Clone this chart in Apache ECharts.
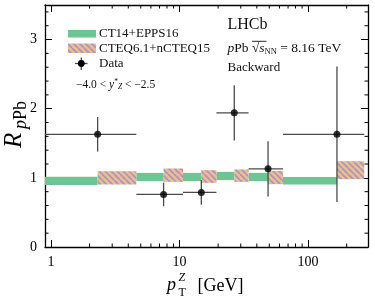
<!DOCTYPE html>
<html><head><meta charset="utf-8">
<script src="https://cdn.jsdelivr.net/npm/echarts@6/dist/echarts.min.js"></script>
<style>html,body{margin:0;padding:0;background:#fff}#c{width:375px;height:303px}</style>
</head><body><div id="c"></div>
<script>
// ---- data ----
const binLow  = [0.5, 4.62, 10.66, 19.4, 34.5, 63.9];
const binHigh = [4.62, 10.66, 19.4, 34.5, 63.9, 274];
const ptX     = [2.31, 7.53, 14.8, 26.7, 48.9, 168];
const dataY   = [1.63, 0.76, 0.79, 1.94, 1.13, 1.63];
const dataErr = [0.25, 0.17, 0.18, 0.40, 0.40, 0.98];
const eppsLow  = [0.895, 0.952, 0.952, 0.967, 0.952, 0.905];
const eppsHigh = [1.015, 1.072, 1.072, 1.087, 1.072, 1.014];
const ncteqLow  = [0.905, 0.942, 0.928, 0.942, 0.909, 0.981];
const ncteqHigh = [1.097, 1.136, 1.111, 1.121, 1.101, 1.241];
const xMinorTicks = [2,3,4,5,6,7,8,9,20,30,40,50,60,70,80,90,200];
const yMinorTicks = [0.2,0.4,0.6,0.8,1.2,1.4,1.6,1.8,2.2,2.4,2.6,2.8,3.2,3.4];
const xTickLabels = {1:'1', 10:'10', 100:'100'};

const FONT = "'Liberation Serif', 'DejaVu Serif', serif";
const GREEN = '#6dc594';
const ORANGE = '#f8b985';
const HATCH = '#8f9cd8';
const ERR = '#4a4a4a';

function hatchCanvas() {
  const s = 6;
  const c = document.createElement('canvas');
  c.width = s; c.height = s;
  const g = c.getContext('2d');
  g.fillStyle = ORANGE; g.fillRect(0, 0, s, s);
  g.strokeStyle = HATCH; g.lineWidth = 1.6;
  g.beginPath();
  for (const k of [-s, 0, s]) { g.moveTo(k, 0); g.lineTo(k + s, s); }
  g.stroke();
  return c;
}
const hatchFill = { image: hatchCanvas(), repeat: 'repeat' };

function bandSeries(name, x0s, x1s, lo, hi, fill) {
  return {
    type: 'custom', name, z: 2, silent: true,
    data: x0s.map((x, i) => [x, x1s[i], lo[i], hi[i]]),
    encode: { x: [0, 1], y: [2, 3] },
    renderItem(params, api) {
      const a = api.coord([api.value(0), api.value(3)]);
      const b = api.coord([api.value(1), api.value(2)]);
      const shape = echarts.graphic.clipRectByRect(
        { x: a[0], y: a[1], width: b[0] - a[0], height: b[1] - a[1] }, params.coordSys);
      return shape && { type: 'rect', shape, style: { fill } };
    }
  };
}

const chart = echarts.init(document.getElementById('c'), null, { renderer: 'canvas' });

const axisLineStyle = { color: '#000', width: 1.3 };
const tickStyle = { color: '#000', width: 1 };

chart.setOption({
  animation: false,
  backgroundColor: '#fff',
  grid: { left: 45, right: 7, top: 5, bottom: 56, containLabel: false },
  xAxis: [
    { type: 'log', logBase: 10, min: 0.9, max: 293, position: 'bottom',
      axisLine: { show: true, onZero: false, lineStyle: axisLineStyle },
      axisTick: { show: true, inside: true, length: 7, lineStyle: tickStyle },
      minorTick: { show: false }, splitLine: { show: false },
      axisLabel: { show: true, color: '#000', fontFamily: FONT, fontSize: 14, margin: 8,
        showMinLabel: false, showMaxLabel: false,
        formatter: v => xTickLabels[Math.round(v)] || '' } },
    { type: 'log', logBase: 10, min: 0.9, max: 293, position: 'top',
      axisLine: { show: true, onZero: false, lineStyle: axisLineStyle },
      axisTick: { show: true, inside: true, length: 7, lineStyle: tickStyle },
      minorTick: { show: false }, splitLine: { show: false }, axisLabel: { show: false } }
  ],
  yAxis: [
    { type: 'value', min: 0, max: 3.5, interval: 1, position: 'left',
      axisLine: { show: true, onZero: false, lineStyle: axisLineStyle },
      axisTick: { show: true, inside: true, length: 7, lineStyle: tickStyle },
      splitLine: { show: false },
      axisLabel: { show: true, color: '#000', fontFamily: FONT, fontSize: 14, margin: 8,
        showMaxLabel: false, formatter: v => String(v) } },
    { type: 'value', min: 0, max: 3.5, interval: 1, position: 'right',
      axisLine: { show: true, onZero: false, lineStyle: axisLineStyle },
      axisTick: { show: true, inside: true, length: 7, lineStyle: tickStyle },
      splitLine: { show: false }, axisLabel: { show: false } }
  ],
  series: [
    bandSeries('CT14+EPPS16', binLow, ptX, eppsLow, eppsHigh, GREEN),
    bandSeries('CTEQ6.1+nCTEQ15', ptX, binHigh, ncteqLow, ncteqHigh, hatchFill),
    {
      type: 'custom', name: 'Data errors', z: 3, silent: true,
      data: ptX.map((x, i) => [x, dataY[i], binLow[i], binHigh[i], dataErr[i]]),
      encode: { x: 0, y: 1 },
      renderItem(params, api) {
        const cs = params.coordSys;
        const x = api.value(0), y = api.value(1), e = api.value(4);
        const c = api.coord([x, y]);
        const l = api.coord([api.value(2), y]);
        const h = api.coord([api.value(3), y]);
        const t = api.coord([x, y + e]);
        const b = api.coord([x, y - e]);
        const lx = Math.max(l[0], cs.x), hx = Math.min(h[0], cs.x + cs.width);
        const st = { stroke: ERR, lineWidth: 1.3 };
        return { type: 'group', children: [
          { type: 'line', shape: { x1: lx, y1: c[1], x2: hx, y2: c[1] }, style: st },
          { type: 'line', shape: { x1: c[0], y1: t[1], x2: c[0], y2: b[1] }, style: st }
        ] };
      }
    },
    {
      type: 'scatter', name: 'Data', z: 4, silent: true,
      data: ptX.map((x, i) => [x, dataY[i]]),
      symbol: 'circle', symbolSize: 7,
      itemStyle: { color: '#000' }
    },
    {
      type: 'custom', name: 'xminor', z: 5, silent: true,
      data: xMinorTicks.map(v => [v, 0]),
      encode: { x: 0, y: 1 },
      renderItem(params, api) {
        const cs = params.coordSys;
        const x = api.coord([api.value(0), 0])[0];
        const st = { stroke: '#000', lineWidth: 1 };
        return { type: 'group', children: [
          { type: 'line', shape: { x1: x, y1: cs.y + cs.height, x2: x, y2: cs.y + cs.height - 3.5 }, style: st },
          { type: 'line', shape: { x1: x, y1: cs.y, x2: x, y2: cs.y + 3.5 }, style: st }
        ] };
      }
    },
    {
      type: 'custom', name: 'yminor', z: 5, silent: true,
      data: yMinorTicks.map(v => [1, v]),
      encode: { x: 0, y: 1 },
      renderItem(params, api) {
        const cs = params.coordSys;
        const y = api.coord([1, api.value(1)])[1];
        const st = { stroke: '#000', lineWidth: 1 };
        return { type: 'group', children: [
          { type: 'line', shape: { x1: cs.x, y1: y, x2: cs.x + 3.5, y2: y }, style: st },
          { type: 'line', shape: { x1: cs.x + cs.width, y1: y, x2: cs.x + cs.width - 3.5, y2: y }, style: st }
        ] };
      }
    }
  ],
  graphic: [
    // legend
    { type: 'rect', shape: { x: 68, y: 30, width: 28, height: 7.5 }, style: { fill: GREEN } },
    { type: 'rect', shape: { x: 68, y: 43.5, width: 28, height: 9.5 }, style: { fill: hatchFill } },
    { type: 'line', shape: { x1: 75, y1: 63.5, x2: 87.5, y2: 63.5 }, style: { stroke: ERR, lineWidth: 1.3 } },
    { type: 'line', shape: { x1: 81.3, y1: 57.5, x2: 81.3, y2: 70 }, style: { stroke: ERR, lineWidth: 1.3 } },
    { type: 'circle', shape: { cx: 81.3, cy: 63.5, r: 3.4 }, style: { fill: '#000' } },
    { type: 'text', x: 99, y: 34, style: { text: 'CT14+EPPS16', font: '13px ' + FONT, fill: '#111', verticalAlign: 'middle' } },
    { type: 'text', x: 99, y: 48.5, style: { text: 'CTEQ6.1+nCTEQ15', font: '13px ' + FONT, fill: '#111', verticalAlign: 'middle' } },
    { type: 'text', x: 99, y: 63.5, style: { text: 'Data', font: '13px ' + FONT, fill: '#111', verticalAlign: 'middle' } },
    { type: 'text', x: 76, y: 84.5, style: {
        text: '−4.0 < {i|y}{sup|*}{sub|Z} < −2.5', font: '11.5px ' + FONT, fill: '#111', verticalAlign: 'middle',
        rich: { i: { fontFamily: FONT, fontSize: 11.5, fontStyle: 'italic' },
                sup: { fontFamily: FONT, fontSize: 7.5, padding: [0, 0, 5, 0] },
                sub: { fontFamily: FONT, fontSize: 7.5, fontStyle: 'italic', padding: [5, 0, 0, 0] } } } },
    // annotations
    { type: 'text', x: 227.5, y: 24.5, style: { text: 'LHCb', font: '16px ' + FONT, fill: '#111', verticalAlign: 'middle' } },
    { type: 'text', x: 227.5, y: 48.5, style: {
        text: '{i|p}Pb {r|√}{i|s}{sub|NN} = 8.16 TeV', font: '13.5px ' + FONT, fill: '#111', verticalAlign: 'middle',
        rich: { i: { fontFamily: FONT, fontSize: 13.5, fontStyle: 'italic' },
                r: { fontFamily: FONT, fontSize: 13.5 },
                sub: { fontFamily: FONT, fontSize: 8.5, padding: [6, 0, 0, 0] } } } },
    { type: 'line', shape: { x1: 252, y1: 41.3, x2: 266.5, y2: 41.3 }, style: { stroke: '#111', lineWidth: 0.9 } },
    { type: 'text', x: 227.5, y: 68, style: { text: 'Backward', font: '13px ' + FONT, fill: '#111', verticalAlign: 'middle' } },
    // x axis title
    { type: 'text', x: 167, y: 285, style: { text: 'p', font: 'italic 18px ' + FONT, fill: '#000', verticalAlign: 'middle' } },
    { type: 'text', x: 178.5, y: 278, style: { text: 'Z', font: 'italic 12px ' + FONT, fill: '#000', verticalAlign: 'middle' } },
    { type: 'text', x: 178.5, y: 292.5, style: { text: 'T', font: '12px ' + FONT, fill: '#000', verticalAlign: 'middle' } },
    { type: 'text', x: 197.5, y: 286.5, style: { text: '[GeV]', font: '18px ' + FONT, fill: '#000', verticalAlign: 'middle' } },
    // y axis title
    { type: 'text', x: 14.5, y: 148, rotation: Math.PI / 2, style: { text: 'R', font: 'italic 25px ' + FONT, fill: '#000', align: 'left', verticalAlign: 'middle' } },
    { type: 'text', x: 21.5, y: 129, rotation: Math.PI / 2, style: {
        text: '{i|p}Pb', font: '18px ' + FONT, fill: '#000', align: 'left', verticalAlign: 'middle',
        rich: { i: { fontFamily: FONT, fontSize: 18, fontStyle: 'italic' } } } }
  ]
});
</script>
</body></html>
